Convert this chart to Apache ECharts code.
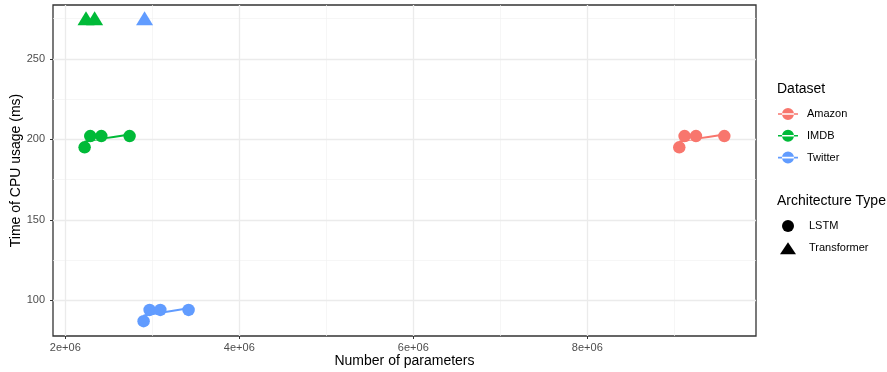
<!DOCTYPE html>
<html>
<head>
<meta charset="utf-8">
<script src="https://cdn.jsdelivr.net/npm/echarts@6/dist/echarts.min.js"></script>
<style>
  html, body { margin: 0; padding: 0; background: #fff; }
  #chart { width: 887px; height: 372px; }
</style>
</head>
<body>
<div id="chart"></div>
<script>
// ---- data ----
const datasetNames = ['Amazon', 'IMDB', 'Twitter'];
const datasetColors = ['#F8766D', '#00BA38', '#619CFF'];
const architectureNames = ['LSTM', 'Transformer'];

const amazonLstmParams = [9.057e6, 9.118e6, 9.249e6, 9.575e6];
const amazonLstmTime   = [195, 202, 202, 202];
const imdbLstmParams   = [2.222e6, 2.287e6, 2.414e6, 2.739e6];
const imdbLstmTime     = [195, 202, 202, 202];
const twitterLstmParams = [2.900e6, 2.969e6, 3.092e6, 3.417e6];
const twitterLstmTime   = [87, 94, 94, 94];

const amazonTransParams = [];
const amazonTransTime   = [];
const imdbTransParams   = [2.238e6, 2.337e6];
const imdbTransTime     = [274, 274];
const twitterTransParams = [2.911e6];
const twitterTransTime   = [274];

const xTickValues = [2e6, 4e6, 6e6, 8e6];
const xTickLabels = ['2e+06', '4e+06', '6e+06', '8e+06'];
const xMinorValues = [3e6, 5e6, 7e6, 9e6];
const yTickValues = [100, 150, 200, 250];
const yTickLabels = ['100', '150', '200', '250'];
const yMinorValues = [125, 175, 225, 275];

// ---- helpers ----
const zip = (xs, ys) => xs.map((x, i) => [x, ys[i]]);
function lmFit(xs, ys) {
  const n = xs.length;
  const mx = xs.reduce((a, b) => a + b, 0) / n;
  const my = ys.reduce((a, b) => a + b, 0) / n;
  let sxy = 0, sxx = 0;
  for (let i = 0; i < n; i++) { sxy += (xs[i] - mx) * (ys[i] - my); sxx += (xs[i] - mx) ** 2; }
  const b = sxy / sxx, a = my - b * mx;
  const x0 = Math.min(...xs), x1 = Math.max(...xs);
  return [[x0, a + b * x0], [x1, a + b * x1]];
}

const FONT = "'Liberation Sans', Arial, sans-serif";
const lstmParams = [amazonLstmParams, imdbLstmParams, twitterLstmParams];
const lstmTime = [amazonLstmTime, imdbLstmTime, twitterLstmTime];
const transParams = [amazonTransParams, imdbTransParams, twitterTransParams];
const transTime = [amazonTransTime, imdbTransTime, twitterTransTime];

const legendIcon = 'path://M0,5.2L20,5.2L20,6.8L0,6.8Z M4,6A6,6 0 1,0 16,6A6,6 0 1,0 4,6Z';

const series = [];
// grid lines (drawn under everything)
series.push({
  type: 'line', data: [], silent: true, z: 0,
  markLine: {
    silent: true, symbol: 'none', label: { show: false }, animation: false,
    emphasis: { disabled: true },
    data: [
      ...xMinorValues.map(v => ({ xAxis: v, lineStyle: { color: '#F2F2F2', width: 0.7, type: 'solid' } })),
      ...yMinorValues.map(v => ({ yAxis: v, lineStyle: { color: '#F2F2F2', width: 0.7, type: 'solid' } })),
      ...xTickValues.map(v => ({ xAxis: v, lineStyle: { color: '#EBEBEB', width: 1.3, type: 'solid' } })),
      ...yTickValues.map(v => ({ yAxis: v, lineStyle: { color: '#EBEBEB', width: 1.3, type: 'solid' } }))
    ]
  }
});

datasetNames.forEach((name, i) => {
  const color = datasetColors[i];
  series.push({
    name, type: 'line', data: lmFit(lstmParams[i], lstmTime[i]),
    showSymbol: false, showAllSymbol: false, symbol: 'none',
    lineStyle: { color, width: 2 },
    itemStyle: { color }, z: 2, silent: true, emphasis: { disabled: true }
  });
  series.push({
    name, type: 'scatter', data: zip(lstmParams[i], lstmTime[i]),
    symbol: 'circle', symbolSize: 12.5,
    itemStyle: { color, opacity: 1, borderWidth: 0 }, z: 5,
    emphasis: { disabled: true }
  });
  if (transParams[i].length) {
    series.push({
      name, type: 'scatter', data: zip(transParams[i], transTime[i]),
      symbol: 'triangle', symbolSize: [17, 14], symbolOffset: [0, -2],
      itemStyle: { color, opacity: 1, borderWidth: 0 }, z: 5, emphasis: { disabled: true }
    });
  }
});
architectureNames.forEach(name => {
  series.push({ name, type: 'scatter', data: [], itemStyle: { color: '#000', opacity: 1, borderWidth: 0 } });
});

const option = {
  animation: false,
  textStyle: { fontFamily: FONT },
  grid: {
    left: 53, right: 131, top: 5, bottom: 36,
    containLabel: false, outerBoundsMode: 'none',
    show: true, borderColor: '#333333', borderWidth: 1.3
  },
  title: [
    { text: 'Dataset', left: 777, top: 82, padding: 0,
      textStyle: { fontSize: 14, fontWeight: 'normal', color: '#000', fontFamily: FONT } },
    { text: 'Architecture Type', left: 777, top: 194, padding: 0,
      textStyle: { fontSize: 14, fontWeight: 'normal', color: '#000', fontFamily: FONT } }
  ],
  legend: [
    {
      orient: 'vertical', left: 778, top: 108, padding: 0,
      itemWidth: 20, itemHeight: 12, itemGap: 9.8,
      data: datasetNames.map(n => ({ name: n, icon: legendIcon })),
      itemStyle: { borderWidth: 0 },
      textStyle: { fontSize: 11, color: '#000', fontFamily: FONT, padding: [0, 0, 0, 4] },
      selectedMode: false
    },
    {
      orient: 'vertical', left: 780, top: 220, padding: 0,
      itemWidth: 16, itemHeight: 12, itemGap: 10.3,
      data: [{ name: 'LSTM', icon: 'circle' }, { name: 'Transformer', icon: 'triangle' }],
      itemStyle: { color: '#000', opacity: 1, borderWidth: 0 },
      textStyle: { fontSize: 11, color: '#000', fontFamily: FONT, padding: [0, 0, 0, 8] },
      selectedMode: false
    }
  ],
  xAxis: {
    type: 'value', min: 1.8586e6, max: 9.939e6,
    name: 'Number of parameters', nameLocation: 'middle', nameGap: 18,
    nameMoveOverlap: false,
    nameTextStyle: { fontSize: 14, color: '#000', fontFamily: FONT, verticalAlign: 'top' },
    axisLine: { show: false },
    axisTick: { show: true, length: 3, lineStyle: { color: '#333' }, customValues: xTickValues },
    axisLabel: {
      show: true, margin: 6, fontSize: 11, color: '#4D4D4D', fontFamily: FONT,
      customValues: xTickValues,
      formatter: v => xTickLabels[xTickValues.indexOf(v)] ?? ''
    },
    splitLine: { show: false }
  },
  yAxis: {
    type: 'value', min: 77.8, max: 283.4,
    name: 'Time of CPU usage (ms)', nameLocation: 'middle', nameGap: 30,
    nameMoveOverlap: false,
    nameTextStyle: { fontSize: 14, color: '#000', fontFamily: FONT },
    axisLine: { show: false },
    axisTick: { show: true, length: 3, lineStyle: { color: '#333' }, customValues: yTickValues },
    axisLabel: {
      show: true, margin: 8, fontSize: 11, color: '#4D4D4D', fontFamily: FONT,
      customValues: yTickValues,
      formatter: v => yTickLabels[yTickValues.indexOf(v)] ?? ''
    },
    splitLine: { show: false }
  },
  series
};

const chart = echarts.init(document.getElementById('chart'), null, { renderer: 'canvas' });
chart.setOption(option);
</script>
</body>
</html>
